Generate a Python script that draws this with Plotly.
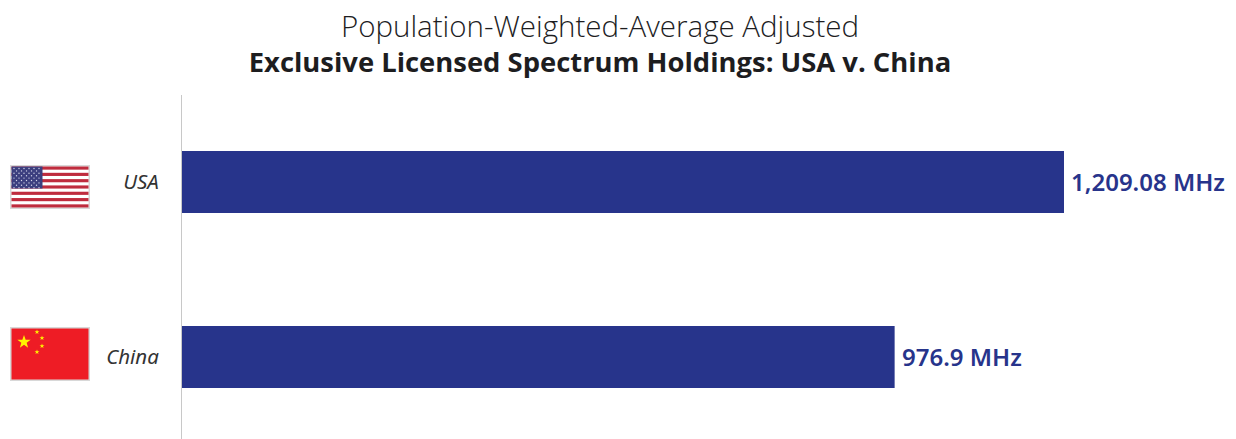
import base64
import math
import plotly.graph_objects as go

categories = ["USA", "China"]
values = [1209.08, 976.9]
value_labels = ["1,209.08 MHz", "976.9 MHz"]
title_line_1 = "Population-Weighted-Average Adjusted"
title_line_2 = "Exclusive Licensed Spectrum Holdings: USA v. China"

BAR = "#27348b"
W, H = 1236, 439
L, T = 182, 95
PW, PH = W - L, H - T


def uri(svg):
    return "data:image/svg+xml;base64," + base64.b64encode(svg.encode()).decode()


def us_flag():
    s = '<svg xmlns="http://www.w3.org/2000/svg" width="800" height="440" viewBox="0 0 80 44">'
    s += '<rect width="80" height="44" fill="#d8d8d8"/><rect x="1.5" y="1.5" width="77" height="41" fill="#fff"/>'
    for i in range(0, 13, 2):
        s += f'<rect x="1.5" y="{1.5 + i * 41 / 13:.2f}" width="77" height="{41 / 13:.2f}" fill="#bf2c3e"/>'
    s += '<rect x="1.5" y="1.5" width="31" height="22" fill="#3c3f7f"/>'
    for r in range(9):
        n, off = (6, 0) if r % 2 == 0 else (5, 2.5)
        for c in range(n):
            s += f'<circle cx="{4 + off + c * 5:.1f}" cy="{3.5 + r * 2.4:.2f}" r="0.7" fill="#d5d7ea"/>'
    return uri(s + "</svg>")


def star(cx, cy, r):
    pts = []
    for i in range(10):
        a = -math.pi / 2 + i * math.pi / 5
        q = r if i % 2 == 0 else r * 0.4
        pts.append(f"{cx + q * math.cos(a):.2f},{cy + q * math.sin(a):.2f}")
    return f'<polygon points="{" ".join(pts)}" fill="#fff200"/>'


def cn_flag():
    s = '<svg xmlns="http://www.w3.org/2000/svg" width="800" height="540" viewBox="0 0 80 54">'
    s += '<rect width="80" height="54" fill="#d8d8d8"/><rect x="1.5" y="1.5" width="77" height="51" fill="#ee1c25"/>'
    s += star(14, 15, 7)
    for cx, cy in [(27, 5), (32, 11), (32, 19), (27, 25)]:
        s += star(cx, cy, 2.6)
    return uri(s + "</svg>")


fig = go.Figure(
    go.Bar(
        x=values,
        y=categories,
        orientation="h",
        width=0.354,
        marker=dict(color=BAR, line=dict(width=0)),
    )
)


def flag(source, left, top, width, height):
    return dict(
        source=source,
        xref="paper",
        yref="paper",
        xanchor="left",
        yanchor="top",
        x=(left - L) / PW,
        y=1 - (top - T) / PH,
        sizex=width / PW,
        sizey=height / PH,
        sizing="stretch",
        layer="above",
    )


images = [flag(us_flag(), 10, 165, 80, 44), flag(cn_flag(), 10, 327, 80, 54)]

annotations = [
    dict(
        x=v,
        y=c,
        text=t,
        xref="x",
        yref="y",
        showarrow=False,
        xanchor="left",
        xshift=5,
        font=dict(family="Noto Sans", size=24, color=BAR, weight=600),
    )
    for v, c, t in zip(values, categories, value_labels)
]

fig.update_layout(
    width=W,
    height=H,
    autosize=False,
    showlegend=False,
    paper_bgcolor="#ffffff",
    plot_bgcolor="#ffffff",
    margin=dict(l=L, r=0, t=T, b=0),
    images=images,
    annotations=annotations,
    title=dict(
        text=f"<span style=\"font-size:29.5px\">{title_line_1}</span><br><b>{title_line_2}</b>",
        x=600 / W,
        xanchor="center",
        y=1 - 36.5 / H,
        yanchor="top",
        font=dict(family="Open Sans", size=27.4, color="#1d1d1f", weight=300),
    ),
    xaxis=dict(range=[0, PW / 882 * values[0]], visible=False),
    yaxis=dict(
        type="category",
        categoryorder="array",
        categoryarray=categories,
        range=[1.469, -0.497],
        showgrid=False,
        zeroline=False,
        showline=True,
        linecolor="#c8c8c8",
        linewidth=1,
        ticks="outside",
        ticklen=18,
        tickcolor="rgba(0,0,0,0)",
        tickfont=dict(family="Noto Sans", size=20.5, color="#333333", style="italic"),
    ),
)

fig.write_html(
    "out.html",
    config={"displayModeBar": False},
    post_script="document.body.style.margin='0';document.documentElement.style.overflow='hidden';",
)
